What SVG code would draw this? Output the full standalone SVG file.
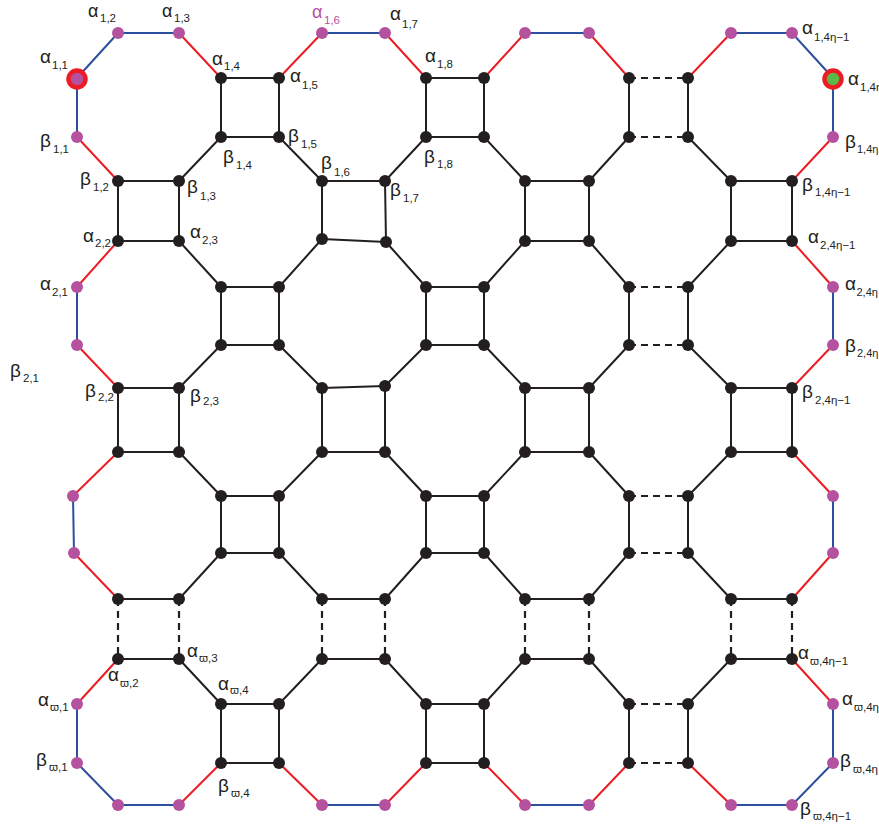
<svg xmlns="http://www.w3.org/2000/svg" width="879" height="828" viewBox="0 0 879 828">
<style>
.e{fill:none;stroke-linecap:round;stroke-linejoin:round}
.k{stroke:#231f20;stroke-width:2}
.r{stroke:#ed1c24;stroke-width:2}
.u{stroke:#2e4f9e;stroke-width:2}
.d{fill:none;stroke:#231f20;stroke-width:2.2;stroke-dasharray:7 5}
.b{fill:#231f20}
.p{fill:#b5529f}
text{font-family:"Liberation Sans",Arial,"DejaVu Sans",sans-serif;font-size:19px;fill:#231f20}
.t{font-size:18px}
.s{font-size:11.5px}
.s2{font-size:11px}
</style>
<rect width="879" height="828" fill="#fff"/>
<g id="connectors">
<path class="e k" d="M179 181L221 137M279 137L322 181M385 181L426 137M484 137L525 181M589 181L629 137M688 137L731 181
M179 241L221 287M279 287L322 239M386 242L426 287M484 287L525 241M589 241L629 287M688 287L731 241
M179 388L221 345M279 345L322 388M385 386L426 345M484 345L525 388M589 388L629 345M688 345L731 388
M179 452L221 496M279 496L322 452M385 452L426 496M484 496L525 452M589 452L629 496M688 496L731 452
M179 599L221 553M279 553L322 599M385 599L426 553M484 553L525 599M589 599L629 553M688 553L731 599
M179 659L221 704M279 704L322 659M385 659L426 704M484 704L525 659M589 659L629 704M688 704L731 659"/>
<path class="e k" d="M118 181H179V241H118ZM118 388H179V452H118ZM118 599H179M118 659H179
M221 78H279V137H221ZM221 287H279V345H221ZM221 496H279V553H221ZM221 704H279V763H221Z
M322 181H385L386 242L322 239ZM322 388L385 386V452H322ZM322 599H385M322 659H385
M426 78H484V137H426ZM426 287H484V345H426ZM426 496H484V553H426ZM426 704H484V763H426Z
M525 181H589V241H525ZM525 388H589V452H525ZM525 599H589M525 659H589
M629 78V137M688 78V137M629 287V345M688 287V345M629 496V553M688 496V553M629 704V763M688 704V763
M731 181H792V241H731ZM731 388H792V452H731ZM731 599H792M731 659H792"/>
<path class="d" d="M118 599V659M179 599V659M322 599V659M385 599V659M525 599V659M589 599V659M731 599V659M792 599V659
M629 78H688M629 137H688M629 287H688M629 345H688M629 496H688M629 553H688M629 704H688M629 763H688"/>
<path class="e r" d="M179 33L221 78M279 78L322 33M385 33L426 78M484 78L525 33M589 33L629 78M688 78L731 33
M179 805L221 763M279 763L322 805M385 805L426 763M484 763L525 805M589 805L629 763M688 763L731 805
M77 137L118 181M77 287L118 241M77 345L118 388M73 496L118 452M74 553L118 599M77 704L118 659
M792 181L833 137M792 241L833 287M792 388L833 345M792 452L833 496M792 599L833 553M792 659L833 704"/>
<path class="e u" d="M77 78L118 33M792 33L833 78M77 763L118 805M792 805L833 763
M118 33H179M322 33H385M525 33H589M731 33H792
M118 805H179M322 805H385M525 805H589M731 805H792
M77 78V137M77 287V345M73 496L74 553M77 704V763
M833 78V137M833 287V345M833 496V553M833 704V763"/>
</g>
<g id="nodes">
<g id="n1-0"><circle class="p" cx="118" cy="33" r="6"/><text class="t" x="88" y="16.5">α<tspan class="s" x="100" y="22">1,2</tspan></text></g>
<g id="n2-0"><circle class="p" cx="179" cy="33" r="6"/><text class="t" x="162" y="16.5">α<tspan class="s" x="174" y="22">1,3</tspan></text></g>
<g id="n5-0"><circle class="p" cx="322" cy="33" r="6"/><text class="t" x="312" y="17.5" style="fill:#b5529f">α<tspan class="s" x="324" y="24">1,6</tspan></text></g>
<g id="n6-0"><circle class="p" cx="385" cy="33" r="6"/><text x="390" y="20">α<tspan class="s" x="402" y="28">1,7</tspan></text></g>
<g id="n9-0"><circle class="p" cx="525" cy="33" r="6"/></g>
<g id="n10-0"><circle class="p" cx="589" cy="33" r="6"/></g>
<g id="n13-0"><circle class="p" cx="731" cy="33" r="6"/></g>
<g id="n14-0"><circle class="p" cx="792" cy="33" r="6"/><text x="802" y="34">α<tspan class="s" x="814" y="41">1,4η−1</tspan></text></g>

<g id="n0-1"><circle cx="77" cy="79" r="8.5" fill="#b5529f" stroke="#ed1c24" stroke-width="4.5"/><text x="40" y="63">α<tspan class="s" x="52" y="69">1,1</tspan></text></g>
<g id="n3-1"><circle class="b" cx="221" cy="78" r="6"/><text x="212" y="65">α<tspan class="s" x="224" y="70">1,4</tspan></text></g>
<g id="n4-1"><circle class="b" cx="279" cy="78" r="6"/><text x="290" y="82">α<tspan class="s" x="302" y="89">1,5</tspan></text></g>
<g id="n7-1"><circle class="b" cx="426" cy="78" r="6"/><text x="425" y="62">α<tspan class="s" x="437" y="68">1,8</tspan></text></g>
<g id="n8-1"><circle class="b" cx="484" cy="78" r="6"/></g>
<g id="n11-1"><circle class="b" cx="629" cy="78" r="6"/></g>
<g id="n12-1"><circle class="b" cx="688" cy="78" r="6"/></g>
<g id="n15-1"><circle cx="833" cy="79" r="8.5" fill="#5cb947" stroke="#ed1c24" stroke-width="4.5"/><text x="848" y="85">α<tspan class="s" x="860" y="91">1,4η</tspan></text></g>

<g id="n0-2"><circle class="p" cx="77" cy="137" r="6"/><text x="40" y="147">β<tspan class="s" x="53" y="153">1,1</tspan></text></g>
<g id="n3-2"><circle class="b" cx="221" cy="137" r="6"/><text x="223" y="163">β<tspan class="s" x="236" y="169">1,4</tspan></text></g>
<g id="n4-2"><circle class="b" cx="279" cy="137" r="6"/><text x="288" y="142">β<tspan class="s" x="301" y="148">1,5</tspan></text></g>
<g id="n7-2"><circle class="b" cx="426" cy="137" r="6"/><text x="424" y="163">β<tspan class="s" x="437" y="168">1,8</tspan></text></g>
<g id="n8-2"><circle class="b" cx="484" cy="137" r="6"/></g>
<g id="n11-2"><circle class="b" cx="629" cy="137" r="6"/></g>
<g id="n12-2"><circle class="b" cx="688" cy="137" r="6"/></g>
<g id="n15-2"><circle class="p" cx="833" cy="137" r="6"/><text x="845" y="148">β<tspan class="s2" x="857" y="153">1,4η</tspan></text></g>

<g id="n1-3"><circle class="b" cx="118" cy="181" r="6"/><text x="80" y="185">β<tspan class="s" x="93" y="191">1,2</tspan></text></g>
<g id="n2-3"><circle class="b" cx="179" cy="181" r="6"/><text x="187" y="193">β<tspan class="s" x="200" y="200">1,3</tspan></text></g>
<g id="n5-3"><circle class="b" cx="322" cy="181" r="6"/><text x="321" y="169">β<tspan class="s" x="334" y="176">1,6</tspan></text></g>
<g id="n6-3"><circle class="b" cx="385" cy="181" r="6"/><text x="390" y="196">β<tspan class="s" x="403" y="202">1,7</tspan></text></g>
<g id="n9-3"><circle class="b" cx="525" cy="181" r="6"/></g>
<g id="n10-3"><circle class="b" cx="589" cy="181" r="6"/></g>
<g id="n13-3"><circle class="b" cx="731" cy="181" r="6"/></g>
<g id="n14-3"><circle class="b" cx="792" cy="181" r="6"/><text x="802" y="191">β<tspan class="s" x="815" y="196">1,4η−1</tspan></text></g>

<g id="n1-4"><circle class="b" cx="118" cy="241" r="6"/><text x="83" y="242">α<tspan class="s" x="95" y="247">2,2</tspan></text></g>
<g id="n2-4"><circle class="b" cx="179" cy="241" r="6"/><text x="190" y="238">α<tspan class="s" x="202" y="244">2,3</tspan></text></g>
<g id="n5-4"><circle class="b" cx="322" cy="239" r="6"/></g>
<g id="n6-4"><circle class="b" cx="386" cy="242" r="6"/></g>
<g id="n9-4"><circle class="b" cx="525" cy="241" r="6"/></g>
<g id="n10-4"><circle class="b" cx="589" cy="241" r="6"/></g>
<g id="n13-4"><circle class="b" cx="731" cy="241" r="6"/></g>
<g id="n14-4"><circle class="b" cx="792" cy="241" r="6"/><text x="808" y="243">α<tspan class="s" x="820" y="249">2,4η−1</tspan></text></g>

<g id="n0-5"><circle class="p" cx="77" cy="287" r="6"/><text x="40" y="290">α<tspan class="s" x="52" y="296">2,1</tspan></text></g>
<g id="n3-5"><circle class="b" cx="221" cy="287" r="6"/></g>
<g id="n4-5"><circle class="b" cx="279" cy="287" r="6"/></g>
<g id="n7-5"><circle class="b" cx="426" cy="287" r="6"/></g>
<g id="n8-5"><circle class="b" cx="484" cy="287" r="6"/></g>
<g id="n11-5"><circle class="b" cx="629" cy="287" r="6"/></g>
<g id="n12-5"><circle class="b" cx="688" cy="287" r="6"/></g>
<g id="n15-5"><circle class="p" cx="833" cy="287" r="6"/><text x="845" y="290">α<tspan class="s2" x="856.5" y="296">2,4η</tspan></text></g>

<g id="n0-6"><circle class="p" cx="77" cy="345" r="6"/><text x="10" y="377">β<tspan class="s" x="23" y="382">2,1</tspan></text></g>
<g id="n3-6"><circle class="b" cx="221" cy="345" r="6"/></g>
<g id="n4-6"><circle class="b" cx="279" cy="345" r="6"/></g>
<g id="n7-6"><circle class="b" cx="426" cy="345" r="6"/></g>
<g id="n8-6"><circle class="b" cx="484" cy="345" r="6"/></g>
<g id="n11-6"><circle class="b" cx="629" cy="345" r="6"/></g>
<g id="n12-6"><circle class="b" cx="688" cy="345" r="6"/></g>
<g id="n15-6"><circle class="p" cx="833" cy="345" r="6"/><text x="845" y="352">β<tspan class="s2" x="857" y="357">2,4η</tspan></text></g>

<g id="n1-7"><circle class="b" cx="118" cy="388" r="6"/><text x="85" y="397">β<tspan class="s" x="98" y="401">2,2</tspan></text></g>
<g id="n2-7"><circle class="b" cx="179" cy="388" r="6"/><text x="190" y="402">β<tspan class="s" x="203" y="405">2,3</tspan></text></g>
<g id="n5-7"><circle class="b" cx="322" cy="388" r="6"/></g>
<g id="n6-7"><circle class="b" cx="385" cy="386" r="6"/></g>
<g id="n9-7"><circle class="b" cx="525" cy="388" r="6"/></g>
<g id="n10-7"><circle class="b" cx="589" cy="388" r="6"/></g>
<g id="n13-7"><circle class="b" cx="731" cy="388" r="6"/></g>
<g id="n14-7"><circle class="b" cx="792" cy="388" r="6"/><text x="802" y="398">β<tspan class="s" x="815" y="404">2,4η−1</tspan></text></g>

<g id="n1-8"><circle class="b" cx="118" cy="452" r="6"/></g>
<g id="n2-8"><circle class="b" cx="179" cy="452" r="6"/></g>
<g id="n5-8"><circle class="b" cx="322" cy="452" r="6"/></g>
<g id="n6-8"><circle class="b" cx="385" cy="452" r="6"/></g>
<g id="n9-8"><circle class="b" cx="525" cy="452" r="6"/></g>
<g id="n10-8"><circle class="b" cx="589" cy="452" r="6"/></g>
<g id="n13-8"><circle class="b" cx="731" cy="452" r="6"/></g>
<g id="n14-8"><circle class="b" cx="792" cy="452" r="6"/></g>

<g id="n0-9"><circle class="p" cx="73" cy="496" r="6"/></g>
<g id="n3-9"><circle class="b" cx="221" cy="496" r="6"/></g>
<g id="n4-9"><circle class="b" cx="279" cy="496" r="6"/></g>
<g id="n7-9"><circle class="b" cx="426" cy="496" r="6"/></g>
<g id="n8-9"><circle class="b" cx="484" cy="496" r="6"/></g>
<g id="n11-9"><circle class="b" cx="629" cy="496" r="6"/></g>
<g id="n12-9"><circle class="b" cx="688" cy="496" r="6"/></g>
<g id="n15-9"><circle class="p" cx="833" cy="496" r="6"/></g>

<g id="n0-10"><circle class="p" cx="74" cy="553" r="6"/></g>
<g id="n3-10"><circle class="b" cx="221" cy="553" r="6"/></g>
<g id="n4-10"><circle class="b" cx="279" cy="553" r="6"/></g>
<g id="n7-10"><circle class="b" cx="426" cy="553" r="6"/></g>
<g id="n8-10"><circle class="b" cx="484" cy="553" r="6"/></g>
<g id="n11-10"><circle class="b" cx="629" cy="553" r="6"/></g>
<g id="n12-10"><circle class="b" cx="688" cy="553" r="6"/></g>
<g id="n15-10"><circle class="p" cx="833" cy="553" r="6"/></g>

<g id="n1-11"><circle class="b" cx="118" cy="599" r="6"/></g>
<g id="n2-11"><circle class="b" cx="179" cy="599" r="6"/></g>
<g id="n5-11"><circle class="b" cx="322" cy="599" r="6"/></g>
<g id="n6-11"><circle class="b" cx="385" cy="599" r="6"/></g>
<g id="n9-11"><circle class="b" cx="525" cy="599" r="6"/></g>
<g id="n10-11"><circle class="b" cx="589" cy="599" r="6"/></g>
<g id="n13-11"><circle class="b" cx="731" cy="599" r="6"/></g>
<g id="n14-11"><circle class="b" cx="792" cy="599" r="6"/></g>

<g id="n1-12"><circle class="b" cx="118" cy="659" r="6"/><text x="108" y="681">α<tspan class="s" x="120" y="687">ϖ,2</tspan></text></g>
<g id="n2-12"><circle class="b" cx="179" cy="659" r="6"/><text x="187" y="657">α<tspan class="s" x="199" y="662">ϖ,3</tspan></text></g>
<g id="n5-12"><circle class="b" cx="322" cy="659" r="6"/></g>
<g id="n6-12"><circle class="b" cx="385" cy="659" r="6"/></g>
<g id="n9-12"><circle class="b" cx="525" cy="659" r="6"/></g>
<g id="n10-12"><circle class="b" cx="589" cy="659" r="6"/></g>
<g id="n13-12"><circle class="b" cx="731" cy="659" r="6"/></g>
<g id="n14-12"><circle class="b" cx="792" cy="659" r="6"/><text x="798" y="659">α<tspan class="s" x="810" y="665">ϖ,4η−1</tspan></text></g>

<g id="n0-13"><circle class="p" cx="77" cy="704" r="6"/><text x="38" y="706">α<tspan class="s" x="50" y="711">ϖ,1</tspan></text></g>
<g id="n3-13"><circle class="b" cx="221" cy="704" r="6"/><text x="218" y="690">α<tspan class="s" x="230" y="694">ϖ,4</tspan></text></g>
<g id="n4-13"><circle class="b" cx="279" cy="704" r="6"/></g>
<g id="n7-13"><circle class="b" cx="426" cy="704" r="6"/></g>
<g id="n8-13"><circle class="b" cx="484" cy="704" r="6"/></g>
<g id="n11-13"><circle class="b" cx="629" cy="704" r="6"/></g>
<g id="n12-13"><circle class="b" cx="688" cy="704" r="6"/></g>
<g id="n15-13"><circle class="p" cx="833" cy="704" r="6"/><text x="842" y="705">α<tspan class="s" x="854" y="711">ϖ,4η</tspan></text></g>

<g id="n0-14"><circle class="p" cx="77" cy="763" r="6"/><text x="36" y="766">β<tspan class="s" x="49" y="771">ϖ,1</tspan></text></g>
<g id="n3-14"><circle class="b" cx="221" cy="763" r="6"/><text x="218" y="792">β<tspan class="s" x="231" y="797">ϖ,4</tspan></text></g>
<g id="n4-14"><circle class="b" cx="279" cy="763" r="6"/></g>
<g id="n7-14"><circle class="b" cx="426" cy="763" r="6"/></g>
<g id="n8-14"><circle class="b" cx="484" cy="763" r="6"/></g>
<g id="n11-14"><circle class="b" cx="629" cy="763" r="6"/></g>
<g id="n12-14"><circle class="b" cx="688" cy="763" r="6"/></g>
<g id="n15-14"><circle class="p" cx="833" cy="763" r="6"/><text x="840" y="767">β<tspan class="s" x="853" y="773">ϖ,4η</tspan></text></g>

<g id="n1-15"><circle class="p" cx="118" cy="805" r="6"/></g>
<g id="n2-15"><circle class="p" cx="179" cy="805" r="6"/></g>
<g id="n5-15"><circle class="p" cx="322" cy="805" r="6"/></g>
<g id="n6-15"><circle class="p" cx="385" cy="805" r="6"/></g>
<g id="n9-15"><circle class="p" cx="525" cy="805" r="6"/></g>
<g id="n10-15"><circle class="p" cx="589" cy="805" r="6"/></g>
<g id="n13-15"><circle class="p" cx="731" cy="805" r="6"/></g>
<g id="n14-15"><circle class="p" cx="792" cy="805" r="6"/><text x="800" y="815">β<tspan class="s" x="813" y="820">ϖ,4η−1</tspan></text></g>
</g>
</svg>
